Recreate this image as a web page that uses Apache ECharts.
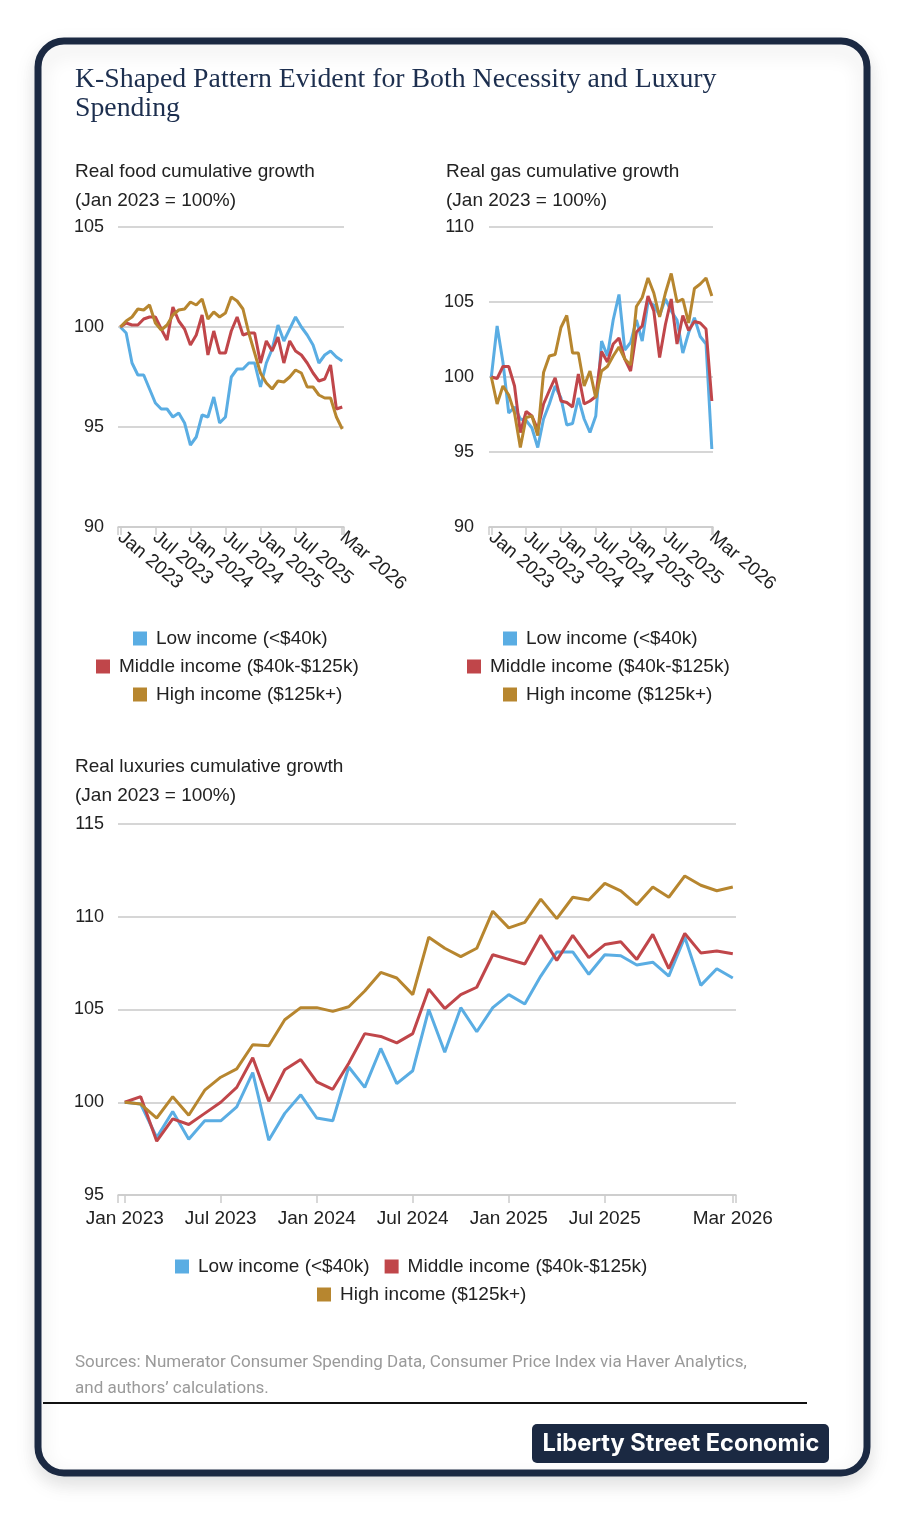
<!DOCTYPE html>
<html><head><meta charset="utf-8">
<script src="https://cdn.jsdelivr.net/npm/echarts@6/dist/echarts.min.js"></script>
<style>html,body{margin:0;padding:0;background:#fff}#c{width:907px;height:1513px}</style>
</head><body><div id="c"></div>
<script>
// Month index 0 = Jan 2023 ... 38 = Mar 2026
const tickIdx = [0, 6, 12, 18, 24, 30, 38];
const tickLabels = ['Jan 2023', 'Jul 2023', 'Jan 2024', 'Jul 2024', 'Jan 2025', 'Jul 2025', 'Mar 2026'];
const seriesNames = ['Low income (<$40k)', 'Middle income ($40k-$125k)', 'High income ($125k+)'];

const foodLow = [100.0, 99.7, 98.2, 97.6, 97.6, 96.9, 96.2, 95.9, 95.9, 95.5, 95.7, 95.2, 94.1, 94.5, 95.6, 95.5, 96.5, 95.2, 95.5, 97.5, 97.9, 97.9, 98.2, 98.2, 97.0, 98.2, 98.9, 100.1, 99.3, 99.9, 100.5, 100.0, 99.6, 99.1, 98.2, 98.6, 98.8, 98.5, 98.3];
const foodMid = [100.0, 100.2, 100.1, 100.1, 100.4, 100.5, 100.5, 99.9, 99.35, 101.0, 100.3, 99.9, 99.1, 99.6, 100.6, 98.6, 99.8, 98.7, 98.7, 99.8, 100.5, 99.6, 99.7, 99.7, 98.2, 99.3, 98.8, 99.5, 98.2, 99.3, 98.8, 98.6, 98.2, 97.7, 97.3, 97.4, 98.1, 95.9, 96.0];
const foodHigh = [100.0, 100.3, 100.5, 100.9, 100.85, 101.1, 100.2, 99.85, 100.1, 100.6, 100.85, 100.9, 101.25, 101.1, 101.4, 100.4, 100.75, 100.5, 100.7, 101.5, 101.3, 100.9, 99.7, 98.7, 97.7, 97.2, 96.9, 97.3, 97.25, 97.5, 97.85, 97.7, 97.0, 97.0, 96.6, 96.45, 96.45, 95.5, 94.9];

const gasLow = [100.0, 103.4, 101.0, 97.6, 98.0, 97.2, 97.1, 96.6, 95.3, 97.2, 98.2, 99.4, 98.6, 96.8, 96.9, 98.6, 97.2, 96.3, 97.4, 102.4, 101.4, 103.8, 105.5, 101.8, 102.3, 103.8, 102.4, 105.0, 104.8, 104.1, 105.2, 104.4, 103.8, 101.6, 102.95, 103.95, 102.7, 102.2, 95.2];
const gasMid = [100.0, 99.9, 100.7, 100.7, 99.4, 96.3, 97.7, 97.4, 96.5, 98.2, 99.1, 99.95, 98.4, 98.3, 98.0, 100.2, 98.2, 98.4, 98.7, 101.7, 101.0, 102.2, 102.6, 101.2, 100.4, 103.0, 103.4, 105.4, 104.4, 101.3, 103.5, 105.2, 102.2, 104.1, 103.1, 103.7, 103.6, 103.2, 98.4];
const gasHigh = [100.0, 98.2, 99.4, 98.8, 97.6, 95.3, 97.3, 97.4, 96.1, 100.3, 101.4, 101.5, 103.3, 104.1, 101.6, 101.6, 99.4, 100.4, 98.6, 100.4, 100.7, 101.4, 102.0, 101.2, 100.8, 104.7, 105.3, 106.6, 105.6, 104.0, 105.6, 106.9, 105.0, 105.2, 103.6, 105.9, 106.2, 106.6, 105.4];

const luxLow = [100.0, 99.9, 98.1, 99.5, 98.0, 99.0, 99.0, 99.75, 101.6, 97.95, 99.4, 100.4, 99.15, 99.0, 101.9, 100.8, 102.9, 101.0, 101.7, 105.0, 102.7, 105.1, 103.8, 105.1, 105.8, 105.3, 106.8, 108.1, 108.1, 106.9, 107.95, 107.9, 107.4, 107.55, 106.8, 108.9, 106.3, 107.2, 106.7];
const luxMid = [100.0, 100.3, 97.9, 99.1, 98.8, 99.4, 100.0, 100.8, 102.4, 100.05, 101.75, 102.3, 101.1, 100.7, 102.1, 103.7, 103.55, 103.2, 103.7, 106.1, 105.05, 105.8, 106.2, 107.95, 107.7, 107.45, 109.0, 107.65, 109.0, 107.8, 108.5, 108.65, 107.7, 109.05, 107.2, 109.1, 108.05, 108.15, 108.0];
const luxHigh = [100.0, 99.9, 99.15, 100.3, 99.3, 100.65, 101.35, 101.8, 103.1, 103.05, 104.45, 105.1, 105.1, 104.9, 105.15, 106.0, 107.0, 106.7, 105.8, 108.9, 108.3, 107.85, 108.3, 110.3, 109.4, 109.7, 110.95, 109.9, 111.05, 110.9, 111.8, 111.4, 110.65, 111.6, 111.05, 112.2, 111.7, 111.4, 111.6];

const colors = ['#5AADE3', '#C0464A', '#B7862F'];
const FONT = 'Liberation Sans, Arial, sans-serif';
const TXT = '#222';

function xAxis(gridIndex, min, max, rotate, margin) {
  return {
    type: 'value', gridIndex, min, max,
    axisLine: { show: true, lineStyle: { color: '#cccccc', width: 1.5 } },
    axisTick: { show: true, length: 8, lineStyle: { color: '#cccccc', width: 1.5 }, customValues: [min].concat(tickIdx, [max]) },
    splitLine: { show: false },
    axisLabel: {
      customValues: tickIdx, rotate, margin, color: TXT, fontSize: 19, fontFamily: FONT,
      formatter: v => tickLabels[tickIdx.indexOf(Math.round(v))] || ''
    }
  };
}
function yAxis(gridIndex, min, max, margin) {
  return {
    type: 'value', gridIndex, min, max, interval: 5,
    axisLine: { show: false }, axisTick: { show: false },
    splitLine: { show: true, lineStyle: { color: '#c8c8c8', width: 1.5 } },
    axisLabel: { margin, color: TXT, fontSize: 18, fontFamily: FONT }
  };
}
function lines(idx, arrs) {
  return arrs.map((a, i) => ({
    name: seriesNames[i], type: 'line', xAxisIndex: idx, yAxisIndex: idx,
    data: a.map((v, k) => [k, v]), showSymbol: false, symbol: 'none',
    lineStyle: { width: 3, color: colors[i] }, itemStyle: { color: colors[i] },
    animation: false, z: 3 + i
  }));
}
function legend(names, left, top) {
  return {
    data: names, left, top, orient: 'horizontal', icon: 'rect', itemWidth: 14, itemHeight: 14,
    itemGap: 15, padding: 0,
    textStyle: { color: TXT, fontSize: 19, fontFamily: FONT, padding: [0, 0, 0, 4] }
  };
}
const chart = echarts.init(document.getElementById('c'), null, { renderer: 'canvas' });
chart.setOption({
  animation: false,
  color: colors,
  graphic: [
    { type: 'rect', z: -10, shape: { x: 38, y: 41, width: 829, height: 1432, r: 26 },
      style: { fill: '#fff', stroke: '#1b2942', lineWidth: 7, shadowBlur: 20, shadowColor: 'rgba(0,0,0,0.12)', shadowOffsetY: 8 } },
    { type: 'line', shape: { x1: 43, y1: 1403, x2: 807, y2: 1403 }, style: { stroke: '#111', lineWidth: 2 } },
    { type: 'rect', shape: { x: 532, y: 1424, width: 297, height: 39, r: 5 }, style: { fill: '#1b2942' } },
    { type: 'text', style: { text: 'Liberty Street Economic', x: 681, y: 1444, align: 'center', verticalAlign: 'middle',
      fill: '#fff', font: 'bold 23.6px Inter, Roboto, sans-serif' } }
  ],
  title: [
    { text: 'K-Shaped Pattern Evident for Both Necessity and Luxury\nSpending', left: 75, top: 65, padding: 0,
      textStyle: { fontFamily: 'Liberation Serif, serif', fontWeight: 'normal', fontSize: 27.8, lineHeight: 29, color: '#1d2f4f' } },
    { text: 'Real food cumulative growth\n(Jan 2023 = 100%)', left: 75, top: 157, padding: 0,
      textStyle: { fontFamily: FONT, fontWeight: 'normal', fontSize: 19, lineHeight: 29, color: TXT } },
    { text: 'Real gas cumulative growth\n(Jan 2023 = 100%)', left: 446, top: 157, padding: 0,
      textStyle: { fontFamily: FONT, fontWeight: 'normal', fontSize: 19, lineHeight: 29, color: TXT } },
    { text: 'Real luxuries cumulative growth\n(Jan 2023 = 100%)', left: 75, top: 752, padding: 0,
      textStyle: { fontFamily: FONT, fontWeight: 'normal', fontSize: 19, lineHeight: 29, color: TXT } },
    { text: 'Sources: Numerator Consumer Spending Data, Consumer Price Index via Haver Analytics,\nand authors\u2019 calculations.', left: 75, top: 1350, padding: 0,
      textStyle: { fontFamily: 'Roboto, sans-serif', fontWeight: 'normal', fontSize: 17, lineHeight: 26, color: '#9a9a9a' } }
  ],
  legend: [
    legend([seriesNames[0]], 133, 629), legend([seriesNames[1]], 96, 657), legend([seriesNames[2]], 133, 685),
    legend([seriesNames[0]], 503, 629), legend([seriesNames[1]], 467, 657), legend([seriesNames[2]], 503, 685),
    legend([seriesNames[0], seriesNames[1]], 175, 1257), legend([seriesNames[2]], 317, 1285)
  ],
  grid: [
    { left: 118, top: 227, width: 226, height: 300 },
    { left: 489, top: 227, width: 224, height: 300 },
    { left: 118, top: 824, width: 618, height: 371 }
  ],
  xAxis: [xAxis(0, -0.4, 38.3, -40, 8), xAxis(1, -0.4, 38.2, -40, 8), xAxis(2, -0.42, 38.2, 0, 14)],
  yAxis: [yAxis(0, 90, 105, 14), yAxis(1, 90, 110, 15), yAxis(2, 95, 115, 14)],
  series: [].concat(lines(0, [foodLow, foodMid, foodHigh]), lines(1, [gasLow, gasMid, gasHigh]), lines(2, [luxLow, luxMid, luxHigh]))
});
</script></body></html>
